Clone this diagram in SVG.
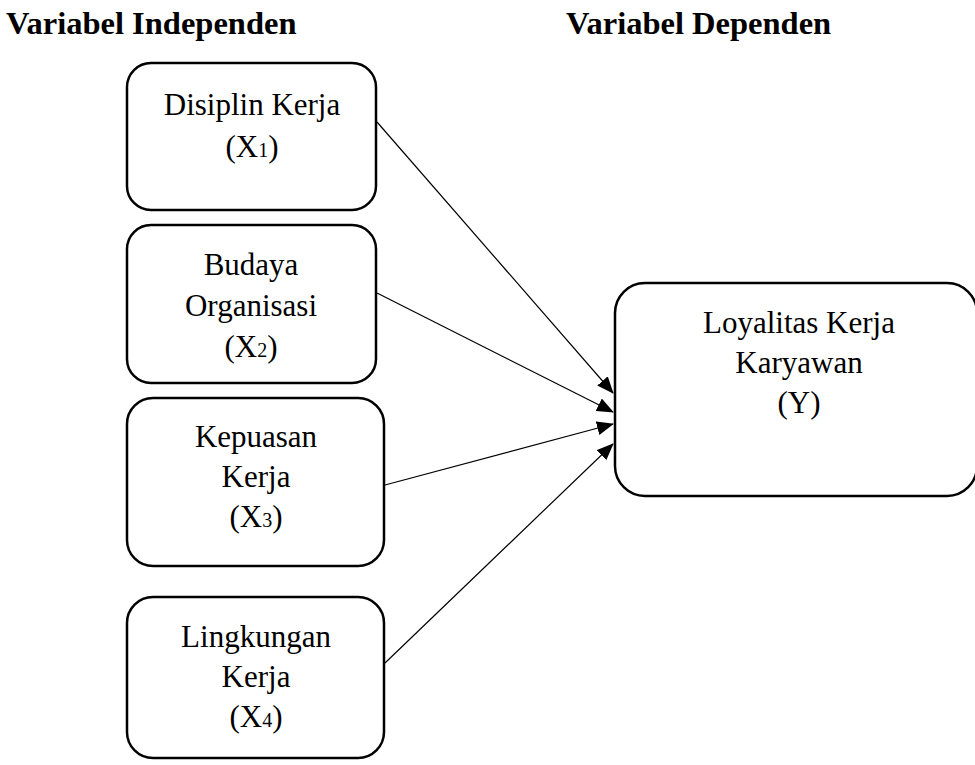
<svg xmlns="http://www.w3.org/2000/svg" width="975" height="765" viewBox="0 0 975 765">
<style>
.box{fill:#fff;stroke:#000;stroke-width:2.5}
.t{font-family:"Liberation Serif","Times New Roman",serif;font-size:31px;fill:#000;text-anchor:middle}
.h{font-family:"Liberation Serif","Times New Roman",serif;font-size:32.5px;font-weight:bold;fill:#000}
.sub{font-size:20px}
.c{stroke:#000;stroke-width:1.2;fill:none;marker-end:url(#ah)}
</style>
<defs>
<marker id="ah" markerUnits="userSpaceOnUse" markerWidth="17" markerHeight="14" refX="16" refY="7" orient="auto">
<path d="M0,0 L17,7 L0,14 Z" fill="#000"/>
</marker>
</defs>
<rect width="975" height="765" fill="#fff"/>
<text class="h" x="6" y="34">Variabel Independen</text>
<text class="h" x="566" y="34">Variabel Dependen</text>
<g id="connectors">
<line class="c" x1="377" y1="122" x2="613" y2="393"/>
<line class="c" x1="377" y1="293" x2="613" y2="412"/>
<line class="c" x1="385" y1="485" x2="613" y2="424"/>
<line class="c" x1="385" y1="663" x2="613" y2="444"/>
</g>
<g id="x1">
<rect class="box" x="127" y="63" width="249" height="147" rx="24"/>
<text class="t" x="252" y="115">Disiplin Kerja</text>
<text class="t" x="252" y="157">(X<tspan class="sub">1</tspan>)</text>
</g>
<g id="x2">
<rect class="box" x="127" y="225" width="249" height="158" rx="24"/>
<text class="t" x="251" y="275">Budaya</text>
<text class="t" x="251" y="316">Organisasi</text>
<text class="t" x="251" y="357">(X<tspan class="sub">2</tspan>)</text>
</g>
<g id="x3">
<rect class="box" x="127" y="398" width="257" height="168" rx="26"/>
<text class="t" x="256" y="447">Kepuasan</text>
<text class="t" x="256" y="487">Kerja</text>
<text class="t" x="256" y="527">(X<tspan class="sub">3</tspan>)</text>
</g>
<g id="x4">
<rect class="box" x="127" y="597" width="257" height="161" rx="26"/>
<text class="t" x="256" y="647">Lingkungan</text>
<text class="t" x="256" y="687">Kerja</text>
<text class="t" x="256" y="727">(X<tspan class="sub">4</tspan>)</text>
</g>
<g id="y">
<rect class="box" x="615" y="283" width="362" height="213" rx="30"/>
<text class="t" x="799" y="333">Loyalitas Kerja</text>
<text class="t" x="799" y="373">Karyawan</text>
<text class="t" x="799" y="413">(Y)</text>
</g>
</svg>
